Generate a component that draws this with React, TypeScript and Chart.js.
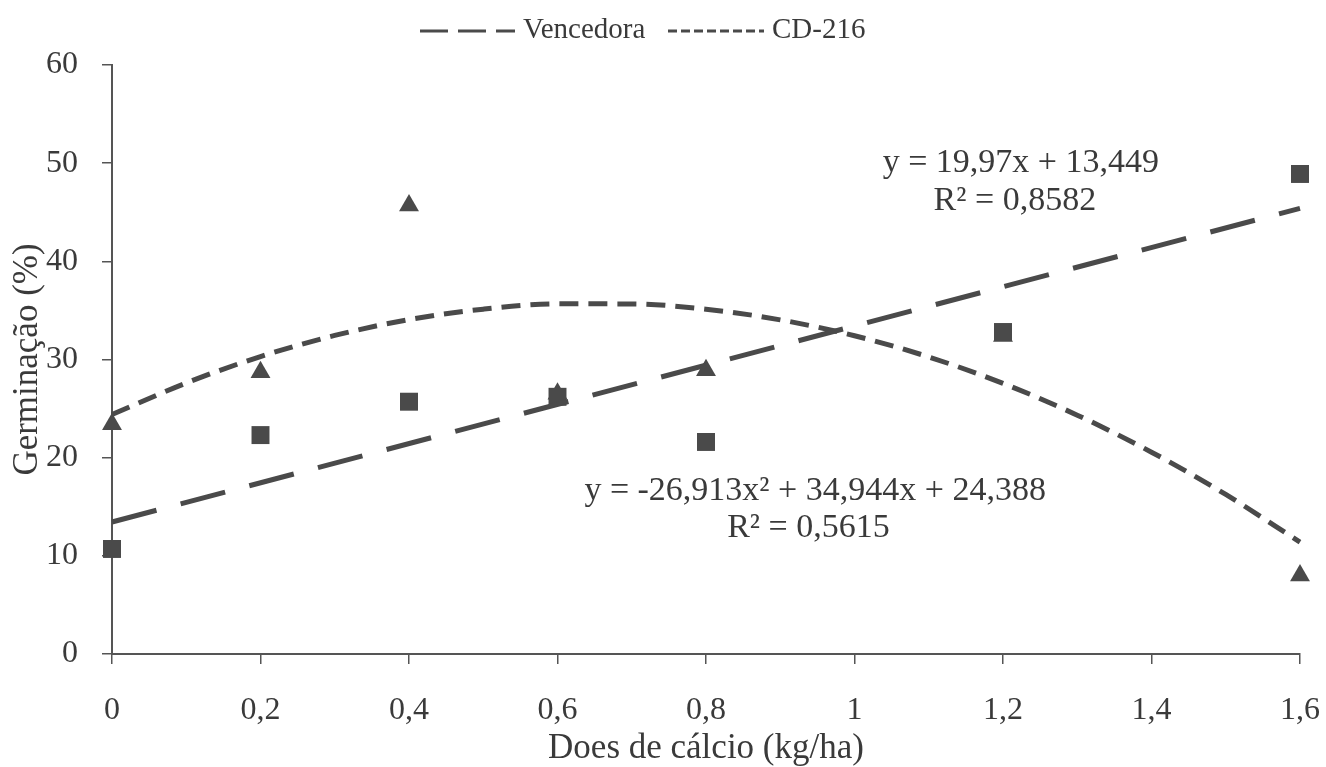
import React, { useEffect, useRef } from 'react';
import { Chart, registerables } from 'chart.js';

Chart.register(...registerables);

// ---- data ----
const doses = [0, 0.2, 0.4, 0.6, 0.8, 1.2, 1.6];
const vencedora = [10.7, 22.3, 25.7, 26.2, 21.6, 32.8, 48.9];
const cd216 = [23.4, 28.7, 45.7, 26.5, 28.9, 32.4, 8.0];

// trend lines (values of the printed equations)
const vencedoraTrendX = [0, 1.6];
const vencedoraTrendY = [13.449, 45.401];
const cdTrendX = [0, 0.1, 0.2, 0.3, 0.4, 0.5, 0.6, 0.7, 0.8, 0.9, 1.0, 1.1, 1.2, 1.3, 1.4, 1.5, 1.6];
const cdTrendY = [24.39, 27.61, 30.30, 32.45, 34.06, 35.13, 35.67, 35.66, 35.12, 34.04, 32.42, 30.26, 27.57, 24.33, 20.56, 16.25, 11.40];

const xTicks = [0, 0.2, 0.4, 0.6, 0.8, 1.0, 1.2, 1.4, 1.6];
const yTicks = [0, 10, 20, 30, 40, 50, 60];

const seriesNames = ['Vencedora', 'CD-216'];
const equations = [
  { text: 'y = 19,97x + 13,449', x: 1.224, y: 49.1 },
  { text: 'R² = 0,8582', x: 1.216, y: 45.2 },
  { text: 'y = -26,913x² + 34,944x + 24,388', x: 0.947, y: 15.7 },
  { text: 'R² = 0,5615', x: 0.938, y: 11.9 },
];

const FONT = "'Liberation Serif', 'Times New Roman', serif";
const INK = '#3a3a3a';
const MARK = '#4a4a4a';

export default function App() {
  const ref = useRef<HTMLCanvasElement | null>(null);

  useEffect(() => {
    document.body.style.margin = '0';
    const canvas = ref.current;
    if (!canvas) return;

    const overlay = {
      id: 'overlay',
      afterDatasetsDraw(chart: any) {
        const ctx = chart.ctx;
        const xs = chart.scales.x;
        const ys = chart.scales.y;
        ctx.save();
        ctx.fillStyle = INK;
        ctx.font = `34px ${FONT}`;
        ctx.textAlign = 'center';
        ctx.textBaseline = 'alphabetic';
        equations.forEach((e) => {
          ctx.fillText(e.text, xs.getPixelForValue(e.x), ys.getPixelForValue(e.y));
        });

        // legend
        ctx.font = `29px ${FONT}`;
        ctx.textAlign = 'left';
        ctx.strokeStyle = MARK;
        ctx.lineWidth = 3;
        ctx.lineCap = 'butt';
        ctx.setLineDash([28, 10]);
        ctx.beginPath();
        ctx.moveTo(420, 31);
        ctx.lineTo(515, 31);
        ctx.stroke();
        ctx.fillText(seriesNames[0], 523, 38);
        ctx.setLineDash([9, 4]);
        ctx.beginPath();
        ctx.moveTo(668, 31);
        ctx.lineTo(764, 31);
        ctx.stroke();
        ctx.fillText(seriesNames[1], 772, 38);
        ctx.restore();
      },
    };

    const chart = new Chart(canvas, {
      type: 'scatter',
      data: {
        datasets: [
          {
            type: 'line',
            label: seriesNames[0] + ' (tendência)',
            data: vencedoraTrendX.map((x, i) => ({ x, y: vencedoraTrendY[i] })),
            borderColor: MARK,
            borderWidth: 5,
            borderDash: [46, 25],
            pointRadius: 0,
            fill: false,
            clip: false,
            order: 0,
          },
          {
            type: 'line',
            label: seriesNames[1] + ' (tendência)',
            data: cdTrendX.map((x, i) => ({ x, y: cdTrendY[i] })),
            borderColor: MARK,
            borderWidth: 5,
            borderDash: [19, 10],
            cubicInterpolationMode: 'monotone',
            pointRadius: 0,
            fill: false,
            clip: false,
            order: 0,
          },
          {
            label: seriesNames[0],
            data: doses.map((x, i) => ({ x, y: vencedora[i] })),
            pointStyle: 'rect',
            pointRadius: 12.7,
            backgroundColor: MARK,
            borderColor: MARK,
            borderWidth: 0,
            clip: false,
            order: 1,
          },
          {
            label: seriesNames[1],
            data: doses.map((x, i) => ({ x, y: cd216[i] })),
            pointStyle: 'triangle',
            pointRadius: 11.5,
            backgroundColor: MARK,
            borderColor: MARK,
            borderWidth: 0,
            clip: false,
            order: 2,
          },
        ],
      },
      options: {
        responsive: false,
        animation: false,
        devicePixelRatio: 1,
        layout: { padding: { top: 65, right: 26, left: 0, bottom: 0 } },
        plugins: {
          legend: { display: false },
          tooltip: { enabled: false },
        },
        scales: {
          x: {
            type: 'linear',
            min: 0,
            max: 1.6,
            afterFit: (s: any) => { s.height = 113; s.paddingLeft = 0; s.paddingRight = 0; },
            afterBuildTicks: (s: any) => { s.ticks = xTicks.map((v) => ({ value: v })); },
            ticks: {
              color: INK,
              font: { family: FONT, size: 32 },
              padding: 27,
              maxRotation: 0,
              autoSkip: false,
              callback: (v: any) => String(Math.round(Number(v) * 10) / 10).replace('.', ','),
            },
            grid: { drawOnChartArea: false, drawTicks: true, tickLength: 10, color: '#555', lineWidth: 1.5 },
            border: { display: true, color: '#555', width: 2 },
            title: {
              display: true,
              text: 'Does de cálcio (kg/ha)',
              color: INK,
              font: { family: FONT, size: 35 },
              padding: { top: 0, bottom: -3 },
            },
          },
          y: {
            type: 'linear',
            min: 0,
            max: 60,
            afterFit: (s: any) => { s.width = 112; s.paddingTop = 0; s.paddingBottom = 0; },
            afterBuildTicks: (s: any) => { s.ticks = yTicks.map((v) => ({ value: v })); },
            ticks: {
              color: INK,
              font: { family: FONT, size: 32 },
              padding: 24,
            },
            grid: { drawOnChartArea: false, drawTicks: true, tickLength: 10, color: '#555', lineWidth: 1.5 },
            border: { display: true, color: '#555', width: 2 },
            title: {
              display: true,
              text: 'Germinação (%)',
              color: INK,
              font: { family: FONT, size: 35 },
              padding: { top: 7, bottom: 0 },
            },
          },
        },
      },
      plugins: [overlay],
    } as any);

    return () => chart.destroy();
  }, []);

  return (
    <div style={{ width: 1326, height: 767, background: '#fff' }}>
      <canvas ref={ref} width={1326} height={767} />
    </div>
  );
}
